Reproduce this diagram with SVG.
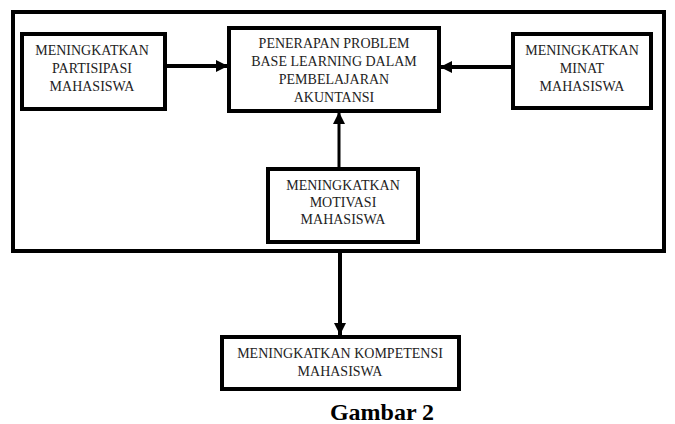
<svg xmlns="http://www.w3.org/2000/svg" width="675" height="424" viewBox="0 0 675 424">
<style>
.box{fill:#fff;stroke:#000;stroke-width:4}
.frame{fill:none;stroke:#000;stroke-width:4}
.lbl{font-family:"Liberation Serif","Times New Roman",serif;font-size:14px;fill:#222;text-anchor:middle}
.ttl{font-family:"Liberation Serif","Times New Roman",serif;font-size:24px;font-weight:bold;fill:#000;text-anchor:middle}
.con{stroke:#000;fill:none}
</style>
<defs>
<marker id="ah" viewBox="0 0 10 10" refX="10" refY="5" markerWidth="3" markerHeight="3.2" orient="auto" markerUnits="strokeWidth">
<path d="M0,0 L10,5 L0,10 Z" fill="#000"/>
</marker>
<marker id="ah2" viewBox="0 0 10 10" refX="10" refY="5" markerWidth="4" markerHeight="4" orient="auto" markerUnits="strokeWidth">
<path d="M0,0 L10,5 L0,10 Z" fill="#000"/>
</marker>
</defs>
<rect width="675" height="424" fill="#fff"/>
<g id="frame">
<rect class="frame" x="13" y="12" width="651" height="239"/>
</g>
<g id="connectors">
<line class="con" x1="165" y1="66" x2="228" y2="66" stroke-width="4" marker-end="url(#ah)"/>
<line class="con" x1="513" y1="67" x2="440" y2="67" stroke-width="4" marker-end="url(#ah)"/>
<line class="con" x1="339" y1="168" x2="339" y2="112" stroke-width="3" marker-end="url(#ah2)"/>
<line class="con" x1="340" y1="252" x2="340" y2="335" stroke-width="4" marker-end="url(#ah)"/>
</g>
<g id="n-partisipasi">
<rect class="box" x="22" y="34" width="143" height="75"/>
<text class="lbl" x="92" y="55">MENINGKATKAN</text>
<text class="lbl" x="92" y="73">PARTISIPASI</text>
<text class="lbl" x="92" y="91">MAHASISWA</text>
</g>
<g id="n-penerapan">
<rect class="box" x="229" y="28" width="210" height="83"/>
<text class="lbl" x="334" y="48">PENERAPAN PROBLEM</text>
<text class="lbl" x="334" y="66">BASE LEARNING DALAM</text>
<text class="lbl" x="334" y="84">PEMBELAJARAN</text>
<text class="lbl" x="334" y="102">AKUNTANSI</text>
</g>
<g id="n-minat">
<rect class="box" x="513" y="34" width="138" height="74"/>
<text class="lbl" x="582" y="55">MENINGKATKAN</text>
<text class="lbl" x="582" y="73">MINAT</text>
<text class="lbl" x="582" y="91">MAHASISWA</text>
</g>
<g id="n-motivasi">
<rect class="box" x="268" y="169" width="150" height="73"/>
<text class="lbl" x="343" y="190">MENINGKATKAN</text>
<text class="lbl" x="343" y="207">MOTIVASI</text>
<text class="lbl" x="343" y="224">MAHASISWA</text>
</g>
<g id="n-kompetensi">
<rect class="box" x="222" y="337" width="237" height="52"/>
<text class="lbl" x="340" y="358">MENINGKATKAN KOMPETENSI</text>
<text class="lbl" x="340" y="376">MAHASISWA</text>
</g>
<text class="ttl" x="382" y="420">Gambar 2</text>
</svg>
